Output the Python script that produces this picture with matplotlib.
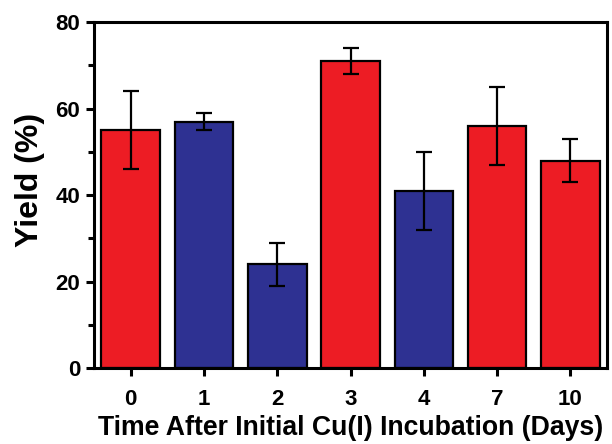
import matplotlib
matplotlib.use("Agg")
import matplotlib.pyplot as plt
from matplotlib.ticker import MultipleLocator

days = ["0", "1", "2", "3", "4", "7", "10"]
yield_pct = [55, 57, 24, 71, 41, 56, 48]
yield_err = [9, 2, 5, 3, 9, 9, 5]
bar_colors = ["#ED1C24", "#2E3192", "#2E3192", "#ED1C24", "#2E3192", "#ED1C24", "#ED1C24"]

plt.rcParams["font.family"] = ["Liberation Sans", "DejaVu Sans"]
plt.rcParams["font.weight"] = "bold"

fig = plt.figure(figsize=(6.12, 4.44), dpi=100)
ax = fig.add_axes([0.1536, 0.171, 0.8384, 0.779])

x = range(len(days))
ax.bar(x, yield_pct, width=0.8, color=bar_colors, edgecolor="black", linewidth=1.6,
       yerr=yield_err, error_kw=dict(ecolor="black", elinewidth=1.6, capsize=6, capthick=1.6))

ax.set_xlim(-0.5, len(days) - 0.5)
ax.set_ylim(0, 80)
ax.set_xticks(list(x))
ax.set_xticklabels(days)
ax.yaxis.set_major_locator(MultipleLocator(20))
ax.yaxis.set_minor_locator(MultipleLocator(10))

for s in ax.spines.values():
    s.set_linewidth(2.2)
ax.tick_params(axis="both", which="major", direction="out", length=6, width=2.2,
               labelsize=16)
ax.tick_params(axis="x", which="major", pad=9)
ax.tick_params(axis="y", which="major", pad=4)
ax.tick_params(axis="y", which="minor", direction="out", length=4, width=2.2)
ax.tick_params(top=False, right=False)
for lab in ax.get_xticklabels() + ax.get_yticklabels():
    lab.set_fontweight("bold")

ax.set_xlabel("Time After Initial Cu(I) Incubation (Days)", fontsize=19.2, fontweight="bold", labelpad=4)
ax.set_ylabel("Yield (%)", fontsize=23, fontweight="bold")
# label sits a little above the axes centre in the original
ax.yaxis.set_label_coords(-0.095, 0.543)

fig.savefig("out.png", dpi=100)
